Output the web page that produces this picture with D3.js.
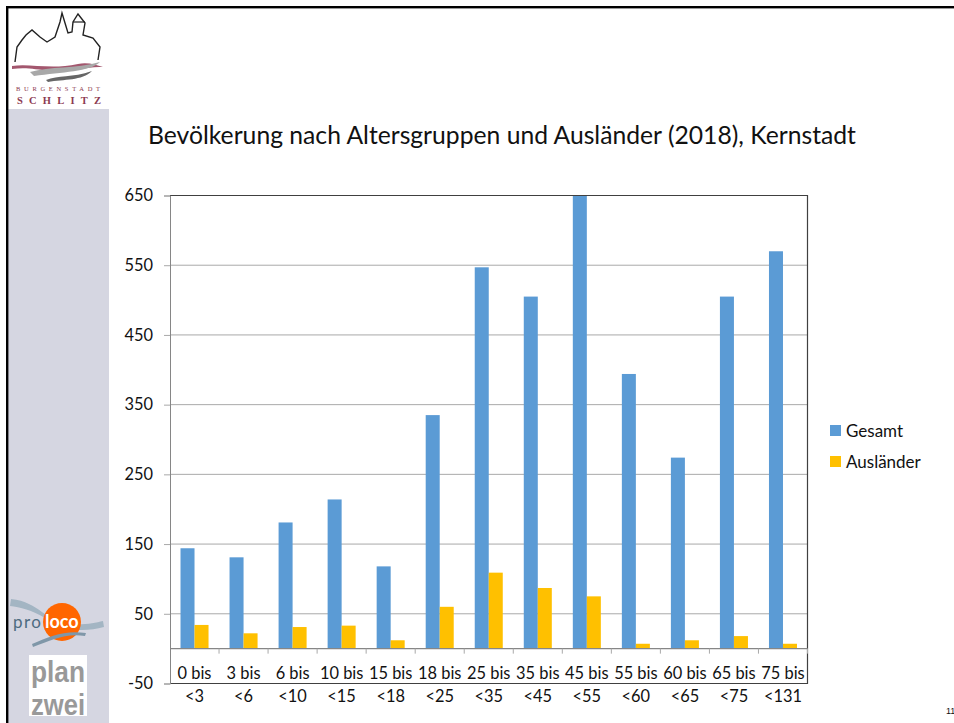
<!DOCTYPE html>
<html>
<head>
<meta charset="utf-8">
<script src="https://cdn.jsdelivr.net/npm/d3@7"></script>
<style>
  html, body { margin: 0; padding: 0; background: #fff; overflow: hidden; }
  svg { display: block; }
  text { font-family: Lato, "Open Sans", sans-serif; fill: #111; }
</style>
</head>
<body>
<div id="chart"></div>
<script>
const ageFrom = ['0 bis', '3 bis', '6 bis', '10 bis', '15 bis', '18 bis', '25 bis', '35 bis', '45 bis', '55 bis', '60 bis', '65 bis', '75 bis']
const ageTo = ['<3', '<6', '<10', '<15', '<18', '<25', '<35', '<45', '<55', '<60', '<65', '<75', '<131']
const gesamt = [144, 131, 181, 214, 118, 335, 547, 505, 650, 394, 274, 505, 570]
const auslaender = [34, 22, 31, 33, 12, 60, 109, 87, 75, 7, 12, 18, 7]
const seriesNames = ['Gesamt', 'Ausländer']
const seriesColors = ['#5b9bd5', '#ffc000']
const yTicks = [-50, 50, 150, 250, 350, 450, 550, 650]
const title = 'Bevölkerung nach Altersgruppen und Ausländer (2018), Kernstadt'

const svg = d3.select('#chart').append('svg').attr('width', 954).attr('height', 723)

// slide frame and sidebar
svg.append('rect').attr('x', 8).attr('y', 109).attr('width', 101).attr('height', 614).attr('fill', '#d5d6e1')
svg.append('rect').attr('x', 6).attr('y', 6).attr('width', 948).attr('height', 2.4).attr('fill', '#000')
svg.append('rect').attr('x', 6).attr('y', 6).attr('width', 2.4).attr('height', 717).attr('fill', '#000')

svg.append('text').attr('x', 148).attr('y', 144).attr('font-size', 24.7).text(title)

const plotLeft = 170
const plotRight = 807.5
const plotTop = 195.5
const plotBottom = 683.5

const x = d3.scaleBand().domain(ageTo).range([plotLeft, plotRight])
const x1 = d3.scaleBand().domain(seriesNames).range([0, x.bandwidth()]).paddingInner(0).paddingOuter(0.75)
const y = d3.scaleLinear().domain([-50, 650]).range([plotBottom, plotTop])

// gridlines
svg.append('g').selectAll('line').data(yTicks.slice(1, -1)).join('line')
  .attr('x1', plotLeft).attr('x2', plotRight)
  .attr('y1', d => y(d)).attr('y2', d => y(d))
  .attr('stroke', '#a9a9a9')

// bars
const series = [gesamt, auslaender]
seriesNames.forEach((name, s) => {
  svg.append('g').selectAll('rect').data(series[s]).join('rect')
    .attr('x', (d, i) => x(ageTo[i]) + x1(name))
    .attr('width', x1.bandwidth())
    .attr('y', d => y(d))
    .attr('height', d => y(0) - y(d))
    .attr('fill', seriesColors[s])
})

// plot border
svg.append('path')
  .attr('d', `M${plotLeft},${plotTop}H${plotRight}V${plotBottom}H${plotLeft}`)
  .attr('fill', 'none').attr('stroke', '#404040').attr('stroke-width', 1.2)

// y axis
const yAxis = d3.axisLeft(y).tickValues(yTicks).tickSize(6).tickPadding(11).tickFormat(d => String(d))
const gy = svg.append('g').attr('transform', `translate(${plotLeft},0)`).call(yAxis)
gy.select('.domain').attr('stroke', '#868686')
gy.selectAll('.tick line').attr('stroke', '#a9a9a9')
gy.selectAll('.tick text').attr('font-size', 16.4).style('font-family', 'Lato').style('fill', '#111')

// zero line with ticks between the age groups
svg.append('line').attr('x1', plotLeft).attr('x2', plotRight)
  .attr('y1', y(0)).attr('y2', y(0)).attr('stroke', '#868686').attr('stroke-width', 1.2)
svg.append('g').selectAll('line').data(ageTo).join('line')
  .attr('x1', d => x(d) + x.bandwidth()).attr('x2', d => x(d) + x.bandwidth())
  .attr('y1', y(0)).attr('y2', y(0) + 5)
  .attr('stroke', '#a9a9a9')

// category labels, two lines each
svg.append('g').selectAll('text').data(ageFrom).join('text')
  .attr('x', (d, i) => x(ageTo[i]) + x.bandwidth() / 2)
  .attr('y', 679)
  .attr('text-anchor', 'middle').attr('font-size', 16.4)
  .text(d => d)
svg.append('g').selectAll('text').data(ageTo).join('text')
  .attr('x', d => x(d) + x.bandwidth() / 2)
  .attr('y', 702)
  .attr('text-anchor', 'middle').attr('font-size', 16.4)
  .text(d => d)

// legend
const legendY = d3.scalePoint().domain(seriesNames).range([431, 462])
seriesNames.forEach((name, s) => {
  svg.append('rect').attr('x', 830).attr('y', legendY(name) - 6).attr('width', 11).attr('height', 11).attr('fill', seriesColors[s])
  svg.append('text').attr('x', 846).attr('y', legendY(name) + 5.5).attr('font-size', 17).text(name)
})

// page number, cut off by the window edge
svg.append('text').attr('x', 946).attr('y', 714).attr('font-size', 9).style('font-family', '"Liberation Sans"').text('11')

// Schlitz logo
const logo = svg.append('g')
logo.append('path')
  .attr('d', 'M15,62 L17,47 L22,40 L26,35 L32,30 L40,37 L47,42 L55,37 L60,22 L62,13 L65,23 L68,33 L72,32 L73,22 L78,14 L85,23 L83,35 L93,38 L100,47 L98,60')
  .attr('fill', 'none').attr('stroke', '#222').attr('stroke-width', 1.4)
logo.append('path').attr('d', 'M73,22H85').attr('stroke', '#222').attr('stroke-width', 1.2)
logo.append('path').attr('d', 'M12,66 C30,63 50,70 78,64 C88,62 96,65 103,67 C85,66 70,73 50,71 C35,69 25,67 12,69Z').attr('fill', '#a3576e')
logo.append('path').attr('d', 'M30,72 C50,66 75,69 100,62 C90,72 62,72 34,76Z').attr('fill', '#a8a8a8')
logo.append('path').attr('d', 'M46,80 C58,75 72,78 92,71 C82,81 64,79 48,82Z').attr('fill', '#666')
logo.append('text').attr('x', 16).attr('y', 91)
  .style('font-family', '"Liberation Serif"').attr('font-size', 6.5).attr('textLength', 84).style('fill', '#8c3a50').text('BURGENSTADT')
logo.append('text').attr('x', 17).attr('y', 104)
  .style('font-family', '"Liberation Serif"').attr('font-weight', 'bold').attr('font-size', 10.5).attr('textLength', 84).style('fill', '#8c3a50').text('SCHLITZ')

// pro loco logo
const pl = svg.append('g')
pl.append('path').attr('d', 'M11,599 C40,602 45,622 70,624 C85,625 95,623 103,621 L104,627 C85,632 65,632 45,618 C32,610 20,607 10,606Z').attr('fill', '#a3b5c3')
pl.append('circle').attr('cx', 62).attr('cy', 622).attr('r', 19).attr('fill', '#ff6600')
pl.append('path').attr('d', 'M32,644 C50,636 65,630 86,633 L85,636 C65,633 52,640 33,647Z').attr('fill', '#7f97a8')
pl.append('text').attr('x', 13).attr('y', 628).attr('font-size', 17).attr('letter-spacing', 1.4).style('fill', '#4d6b80').text('pro')
pl.append('text').attr('x', 45).attr('y', 628).attr('font-size', 18).attr('font-weight', 'bold').style('fill', '#fff').text('loco')

// plan zwei logo
const pz = svg.append('g')
pz.append('rect').attr('x', 29).attr('y', 655).attr('width', 58).attr('height', 61).attr('fill', '#fff')
pz.append('text').attr('x', 58).attr('y', 681.5).attr('text-anchor', 'middle').style('font-family', '"Liberation Sans"')
  .attr('font-weight', 'bold').attr('font-size', 29).attr('textLength', 54).attr('lengthAdjust', 'spacingAndGlyphs').style('fill', '#999').text('plan')
pz.append('text').attr('x', 58).attr('y', 714.5).attr('text-anchor', 'middle').style('font-family', '"Liberation Sans"')
  .attr('font-weight', 'bold').attr('font-size', 29).attr('textLength', 54).attr('lengthAdjust', 'spacingAndGlyphs').style('fill', '#999').text('zwei')
</script>
</body>
</html>
